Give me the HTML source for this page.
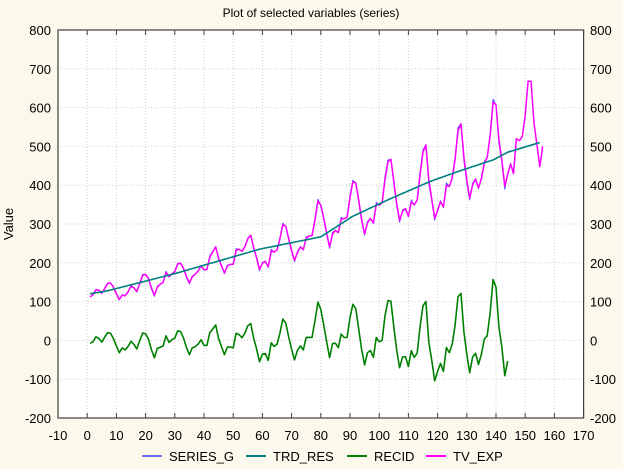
<!DOCTYPE html>
<html><head><meta charset="utf-8"><style>
html,body{margin:0;padding:0;background:#fdf8ec;}
svg{display:block;font-family:"Liberation Sans",Arial,sans-serif;}
</style></head><body>
<svg id="s" width="623" height="469" xmlns="http://www.w3.org/2000/svg">
<rect x="0" y="0" width="623" height="469" fill="#fdf8ec"/>
<rect x="58" y="30" width="525.6" height="388" fill="#ffffff"/>
<g id="grid"></g>
<g id="series"></g>
<rect x="58" y="30" width="525.6" height="388" fill="none" stroke="#404040" stroke-width="1.2"/>
<g id="ticks" font-size="13" fill="#000"></g>
<text x="311" y="17" font-size="12" text-anchor="middle">Plot of selected variables (series)</text>
<text transform="translate(13,224) rotate(-90)" font-size="13" text-anchor="middle">Value</text>
<g font-size="13">
<line x1="142" y1="456" x2="162" y2="456" stroke="#6a6aff" stroke-width="2"/><text x="169" y="461">SERIES_G</text>
<line x1="246" y1="456" x2="266" y2="456" stroke="#008080" stroke-width="2"/><text x="273" y="461">TRD_RES</text>
<line x1="347" y1="456" x2="367" y2="456" stroke="#008000" stroke-width="2"/><text x="374" y="461">RECID</text>
<line x1="426" y1="456" x2="446" y2="456" stroke="#ff00ff" stroke-width="2"/><text x="453" y="461">TV_EXP</text>
</g>
</svg>
<script>
var NS="http://www.w3.org/2000/svg";
function X(v){return 58+(v+10)*2.92;}
function Y(v){return 340.4-v*0.388;}
function el(t,a,p){var e=document.createElementNS(NS,t);for(var k in a)e.setAttribute(k,a[k]);p.appendChild(e);return e;}
var g=document.getElementById('grid'),tk=document.getElementById('ticks'),sr=document.getElementById('series');
for(var v=0;v<=170;v+=10){el('line',{x1:X(v),x2:X(v),y1:30,y2:418,stroke:'#d0d0d0','stroke-dasharray':'1,2'},g);}
for(var v=-10;v<=170;v+=10){el('line',{x1:X(v),x2:X(v),y1:418,y2:413,stroke:'#404040'},g);el('line',{x1:X(v),x2:X(v),y1:30,y2:35,stroke:'#404040'},g);
 var t=el('text',{x:X(v),y:440,'text-anchor':'middle'},tk);t.textContent=v;}
for(var v=-200;v<=800;v+=100){if(v>-200&&v<800)el('line',{x1:58,x2:583.6,y1:Y(v),y2:Y(v),stroke:'#d0d0d0','stroke-dasharray':'1,2'},g);
 var t=el('text',{x:51,y:Y(v)+5,'text-anchor':'end'},tk);t.textContent=v;
 t=el('text',{x:590,y:Y(v)+5},tk);t.textContent=v;}
var d=[112,118,132,129,121,135,148,148,136,119,104,118,115,126,141,135,125,149,170,170,158,133,114,140,145,150,178,163,172,178,199,199,184,162,146,166,171,180,193,181,183,218,230,242,209,191,172,194,196,196,236,235,229,243,264,272,237,211,180,201,204,188,235,227,234,264,302,293,259,229,203,229,242,233,267,269,270,315,364,347,312,274,237,278,284,277,317,313,318,374,413,405,355,306,271,306,315,301,356,348,355,422,465,467,404,347,305,336,340,318,362,348,363,435,491,505,404,359,310,337,360,342,406,396,420,472,548,559,463,407,362,405,417,391,419,461,472,535,622,606,508,461,390,432];
var kp=[[1,120],[7,128],[30,172],[59,235],[80,267],[91,320],[103.5,364],[116,405],[119,414],[128,438],[139,465],[144,485],[155,510]];
function tr(x){for(var i=0;i<kp.length-1;i++){if(x<=kp[i+1][0]){var a=kp[i],b=kp[i+1];return a[1]+(b[1]-a[1])*(x-a[0])/(b[0]-a[0]);}}return kp[kp.length-1][1];}
function path(pts,col,w){var s='';pts.forEach(function(p,i){s+=(i?'L':'M')+X(p[0]).toFixed(1)+','+Y(p[1]).toFixed(1);});el('path',{d:s,fill:'none',stroke:col,'stroke-width':w,'stroke-linejoin':'round'},sr);}
var a=[],b=[],c=[],e=[];
for(var i=0;i<144;i++){var x=i+1;a.push([x,d[i]]);c.push([x,d[i]-tr(x)]);
 var f=i>0?d[i]*0.9+d[i-1]*0.1:d[i];e.push([x,f]);}
for(var x=1;x<=155;x++)b.push([x,tr(x)]);
var fc=[455,430,520,515,525,580,668,668,560,505,448,500];
for(var k=0;k<12;k++)e.push([145+k,fc[k]]);
path(c,'#008000',1.6);
path(a,'#4a4aff',1);
path(e,'#ff00ff',1.5);
path(b,'#008080',1.6);
</script>
</body></html>
